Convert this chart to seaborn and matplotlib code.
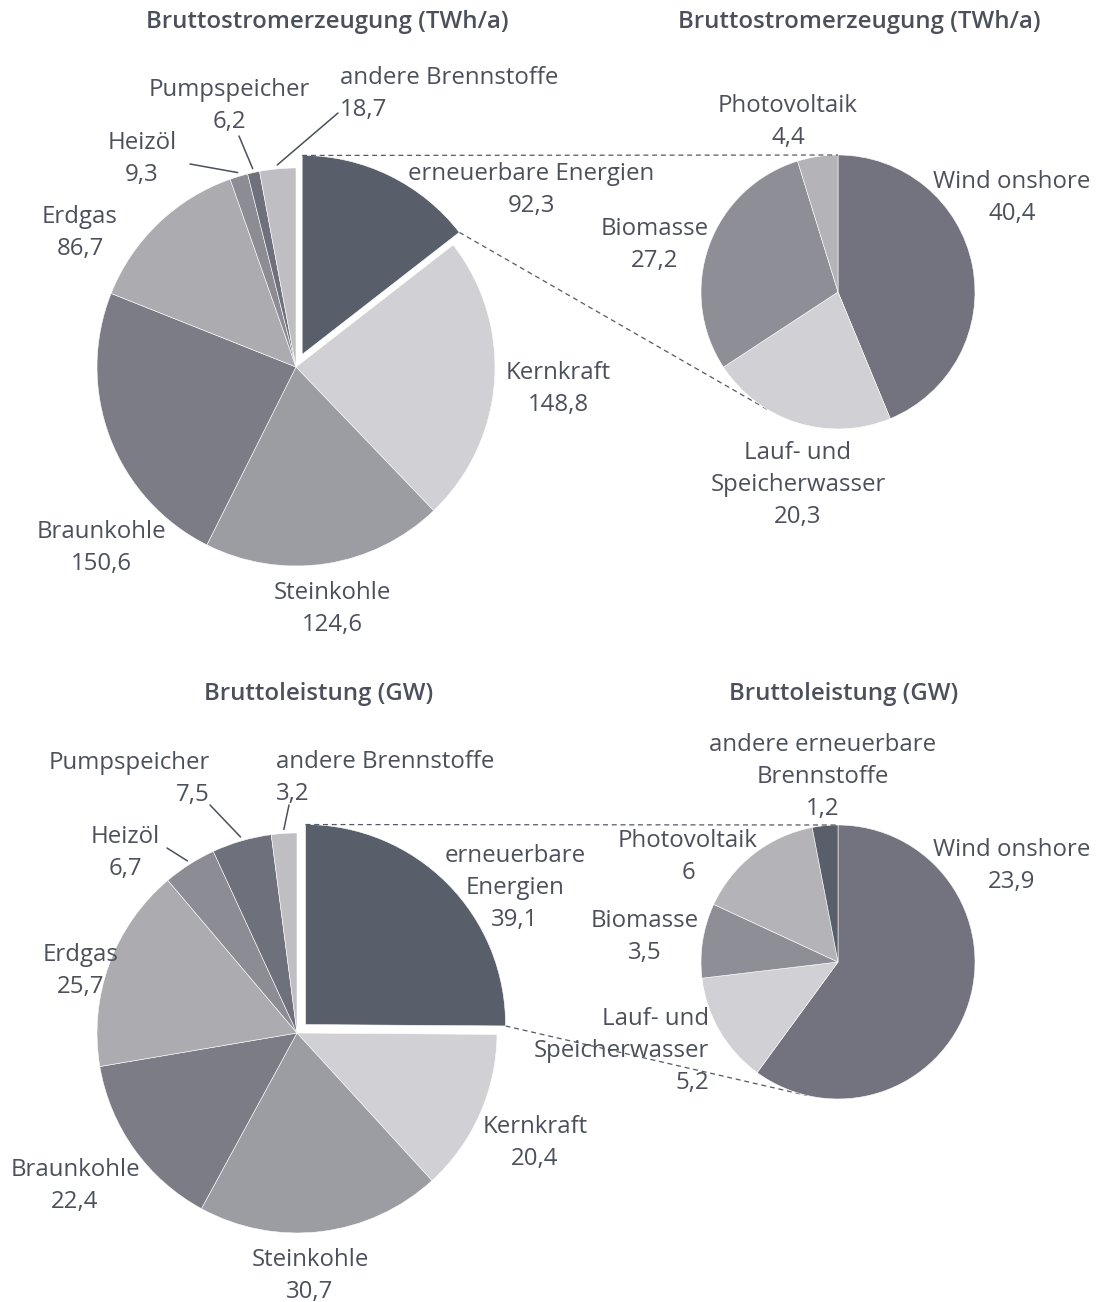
import numpy as np
import matplotlib
matplotlib.use("Agg")
import matplotlib.pyplot as plt
import seaborn as sns

# Bruttostromerzeugung (TWh/a)
gen_main_names = ["erneuerbare Energien", "Kernkraft", "Steinkohle", "Braunkohle",
                  "Erdgas", "Heizöl", "Pumpspeicher", "andere Brennstoffe"]
gen_main_values = [92.3, 148.8, 124.6, 150.6, 86.7, 9.3, 6.2, 18.7]
gen_sub_names = ["Wind onshore", "Lauf- und Speicherwasser", "Biomasse", "Photovoltaik"]
gen_sub_values = [40.4, 20.3, 27.2, 4.4]

# Bruttoleistung (GW)
cap_main_names = ["erneuerbare Energien", "Kernkraft", "Steinkohle", "Braunkohle",
                  "Erdgas", "Heizöl", "Pumpspeicher", "andere Brennstoffe"]
cap_main_values = [39.1, 20.4, 30.7, 22.4, 25.7, 6.7, 7.5, 3.2]
cap_sub_names = ["Wind onshore", "Lauf- und Speicherwasser", "Biomasse", "Photovoltaik",
                 "andere erneuerbare Brennstoffe"]
cap_sub_values = [23.9, 5.2, 3.5, 6.0, 1.2]

colors = {
    "erneuerbare Energien": "#585f6a",
    "Kernkraft": "#d1d1d5",
    "Steinkohle": "#9c9ca3",
    "Braunkohle": "#7c7c86",
    "Erdgas": "#ababb0",
    "Heizöl": "#8c8c94",
    "Pumpspeicher": "#6e707b",
    "andere Brennstoffe": "#bebec3",
    "Wind onshore": "#72737f",
    "Lauf- und Speicherwasser": "#d1d1d5",
    "Biomasse": "#8e8e96",
    "Photovoltaik": "#b3b3b8",
    "andere erneuerbare Brennstoffe": "#585f6a",
}
TXT = "#4b505b"

sns.set_theme(style="white")
plt.rcParams["font.family"] = ["Open Sans", "DejaVu Sans"]


def fmt(v):
    return f"{v:g}".replace(".", ",")


def wrap(name, breaks):
    return breaks.get(name, name)


def draw_pie(ax, names, values, center, radius, explode_first=0.0):
    # explode is in data units (pixels here)
    explode = [explode_first] + [0] * (len(values) - 1)
    wedges, _ = ax.pie(values, colors=[colors[n] for n in names], startangle=-90,
                       counterclock=True, center=center, radius=radius, explode=explode,
                       wedgeprops=dict(edgecolor="white", linewidth=0.4))
    return wedges


def put_labels(ax, names, values, layout, breaks):
    for n, v in zip(names, values):
        x, y, ha = layout[n]
        ax.text(x, y + 2, wrap(n, breaks) + "\n" + fmt(v), ha=ha, va="center",
                fontsize=17.3, color=TXT, linespacing=1.42, multialignment=ha)


def leaders(ax, wedges, names, ends):
    for w, n in zip(wedges, names):
        if n not in ends:
            continue
        th = np.deg2rad((w.theta1 + w.theta2) / 2)
        cx, cy = w.center
        x0, y0 = cx + 1.02 * w.r * np.cos(th), cy + 1.02 * w.r * np.sin(th)
        ax.plot([x0, ends[n][0]], [y0, ends[n][1]], color=TXT, lw=1.1)


def connectors(ax, big, sub_center, sub_r):
    cx, cy = big.center
    t1, t2 = np.deg2rad(big.theta1), np.deg2rad(big.theta2)
    p_top = (cx + big.r * np.cos(t1), cy + big.r * np.sin(t1))
    p_end = np.array([cx + big.r * np.cos(t2), cy + big.r * np.sin(t2)])
    sx, sy = sub_center
    ax.plot([p_top[0], sx], [p_top[1], sy - sub_r], color="#555a64", lw=0.9,
            ls=(0, (4, 3)))
    d = p_end - np.array(sub_center)
    dist = np.hypot(*d)
    phi = np.arctan2(d[1], d[0])
    alpha = np.arccos(sub_r / dist)
    pts = [(sx + sub_r * np.cos(a), sy + sub_r * np.sin(a)) for a in (phi + alpha, phi - alpha)]
    tp = max(pts, key=lambda p: p[1])
    ax.plot([p_end[0], tp[0]], [p_end[1], tp[1]], color="#555a64", lw=0.9,
            ls=(0, (4, 3)), zorder=0.5)


fig = plt.figure(figsize=(10.98, 13.02), dpi=100)
ax = fig.add_axes([0, 0, 1, 1])

# top row
gm = draw_pie(ax, gen_main_names, gen_main_values, (296, 367), 199, explode_first=14)
gs = draw_pie(ax, gen_sub_names, gen_sub_values, (838, 292), 137)
connectors(ax, gm[0], (838, 292), 137)

top_layout = {
    "erneuerbare Energien": (531, 188, "center"),
    "Kernkraft": (558, 387, "center"),
    "Steinkohle": (332, 607, "center"),
    "Braunkohle": (101, 546, "center"),
    "Erdgas": (80, 231, "center"),
    "Heizöl": (142, 157, "center"),
    "Pumpspeicher": (229, 104, "center"),
    "andere Brennstoffe": (340, 92, "left"),
}
top_sub_layout = {
    "Wind onshore": (1012, 196, "center"),
    "Lauf- und Speicherwasser": (798, 483, "center"),
    "Biomasse": (655, 243, "center"),
    "Photovoltaik": (788, 120, "center"),
}
breaks_top = {"Lauf- und Speicherwasser": "Lauf- und\nSpeicherwasser"}
put_labels(ax, gen_main_names, gen_main_values, top_layout, breaks_top)
put_labels(ax, gen_sub_names, gen_sub_values, top_sub_layout, breaks_top)
leaders(ax, gm, gen_main_names, {"Heizöl": (190, 164), "Pumpspeicher": (239, 136),
                                 "andere Brennstoffe": (338, 113)})

# bottom row
cm = draw_pie(ax, cap_main_names, cap_main_values, (297, 1033), 200, explode_first=12)
cs = draw_pie(ax, cap_sub_names, cap_sub_values, (838, 962), 137)
connectors(ax, cm[0], (838, 962), 137)

bot_layout = {
    "erneuerbare Energien": (515, 886, "center"),
    "Kernkraft": (535, 1141, "center"),
    "Steinkohle": (310, 1274, "center"),
    "Braunkohle": (75, 1184, "center"),
    "Erdgas": (81, 969, "center"),
    "Heizöl": (125, 851, "center"),
    "Pumpspeicher": (210, 777, "right"),
    "andere Brennstoffe": (276, 776, "left"),
}
bot_sub_layout = {
    "Wind onshore": (1012, 864, "center"),
    "Lauf- und Speicherwasser": (709, 1049, "right"),
    "Biomasse": (645, 935, "center"),
    "Photovoltaik": (688, 855, "center"),
    "andere erneuerbare Brennstoffe": (823, 775, "center"),
}
breaks_bot = {"Lauf- und Speicherwasser": "Lauf- und\nSpeicherwasser",
              "erneuerbare Energien": "erneuerbare\nEnergien",
              "andere erneuerbare Brennstoffe": "andere erneuerbare\nBrennstoffe"}
put_labels(ax, cap_main_names, cap_main_values, bot_layout, breaks_bot)
put_labels(ax, cap_sub_names, cap_sub_values, bot_sub_layout, breaks_bot)
leaders(ax, cm, cap_main_names, {"Heizöl": (167, 848), "Pumpspeicher": (210, 805),
                                 "andere Brennstoffe": (289, 805)})

# titles
for x, y, t in [(327, 22, "Bruttostromerzeugung (TWh/a)"),
                (859, 22, "Bruttostromerzeugung (TWh/a)"),
                (319, 694, "Bruttoleistung (GW)"),
                (844, 694, "Bruttoleistung (GW)")]:
    ax.text(x, y, t, ha="center", va="center", fontsize=17.3, fontweight="semibold",
            color=TXT)

ax.set_xlim(0, 1098)
ax.set_ylim(1302, 0)
ax.set_aspect("equal")
ax.axis("off")

fig.savefig("out.png", dpi=100, facecolor="white")
